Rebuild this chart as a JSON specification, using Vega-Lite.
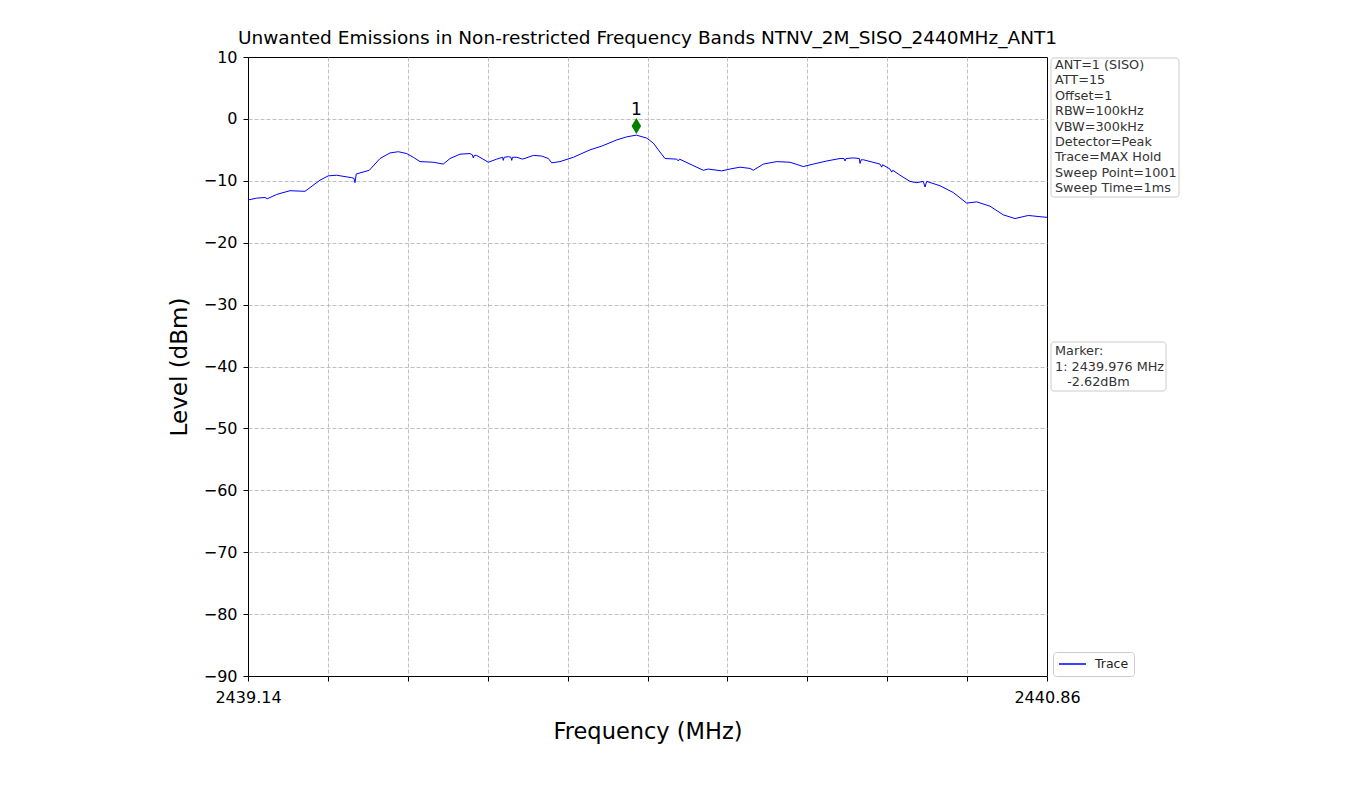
{
  "$schema": "https://vega.github.io/schema/vega-lite/v6.json",
  "width": 799,
  "height": 619,
  "autosize": {"type": "none"},
  "padding": {"left": 248, "top": 57, "right": 304, "bottom": 118},
  "background": "white",
  "config": {
    "font": "DejaVu Sans",
    "view": {"stroke": "black", "strokeWidth": 1}
  },
  "title": {
    "text": "Unwanted Emissions in Non-restricted Frequency Bands NTNV_2M_SISO_2440MHz_ANT1",
    "fontSize": 18.5,
    "fontWeight": "normal",
    "font": "DejaVu Sans",
    "color": "black",
    "offset": 2
  },
  "datasets": {
    "trace": [
      {"f": 2439.14, "level": -13.1},
      {"f": 2439.1587, "level": -12.8},
      {"f": 2439.1766, "level": -12.7},
      {"f": 2439.1815, "level": -12.9},
      {"f": 2439.2018, "level": -12.2},
      {"f": 2439.2304, "level": -11.6},
      {"f": 2439.2627, "level": -11.7},
      {"f": 2439.295, "level": -9.9},
      {"f": 2439.3129, "level": -9.2},
      {"f": 2439.3309, "level": -9.1},
      {"f": 2439.3632, "level": -9.5},
      {"f": 2439.368, "level": -9.6},
      {"f": 2439.3703, "level": -10.3},
      {"f": 2439.373, "level": -8.9},
      {"f": 2439.4011, "level": -8.3},
      {"f": 2439.4242, "level": -6.4},
      {"f": 2439.4457, "level": -5.5},
      {"f": 2439.4636, "level": -5.3},
      {"f": 2439.4816, "level": -5.6},
      {"f": 2439.4958, "level": -6.2},
      {"f": 2439.5103, "level": -6.9},
      {"f": 2439.5389, "level": -7.0},
      {"f": 2439.5604, "level": -7.3},
      {"f": 2439.5749, "level": -6.4},
      {"f": 2439.5964, "level": -5.7},
      {"f": 2439.6179, "level": -5.6},
      {"f": 2439.623, "level": -5.8},
      {"f": 2439.625, "level": -6.3},
      {"f": 2439.627, "level": -5.9},
      {"f": 2439.6323, "level": -5.9},
      {"f": 2439.6573, "level": -7.0},
      {"f": 2439.6754, "level": -6.5},
      {"f": 2439.688, "level": -6.2},
      {"f": 2439.6896, "level": -6.7},
      {"f": 2439.6915, "level": -6.2},
      {"f": 2439.7004, "level": -6.1},
      {"f": 2439.706, "level": -6.2},
      {"f": 2439.7077, "level": -6.7},
      {"f": 2439.7095, "level": -6.2},
      {"f": 2439.7184, "level": -6.2},
      {"f": 2439.7313, "level": -6.5},
      {"f": 2439.7542, "level": -5.9},
      {"f": 2439.7723, "level": -6.0},
      {"f": 2439.7865, "level": -6.4},
      {"f": 2439.7938, "level": -7.1},
      {"f": 2439.8116, "level": -6.9},
      {"f": 2439.8403, "level": -6.2},
      {"f": 2439.8762, "level": -5.0},
      {"f": 2439.9014, "level": -4.4},
      {"f": 2439.9337, "level": -3.4},
      {"f": 2439.9552, "level": -2.9},
      {"f": 2439.976, "level": -2.62},
      {"f": 2439.9983, "level": -3.1},
      {"f": 2440.0125, "level": -3.9},
      {"f": 2440.0233, "level": -5.0},
      {"f": 2440.0377, "level": -6.4},
      {"f": 2440.0629, "level": -6.5},
      {"f": 2440.0663, "level": -6.8},
      {"f": 2440.069, "level": -6.5},
      {"f": 2440.0915, "level": -7.3},
      {"f": 2440.1201, "level": -8.3},
      {"f": 2440.1309, "level": -8.1},
      {"f": 2440.1597, "level": -8.4},
      {"f": 2440.1776, "level": -8.1},
      {"f": 2440.1991, "level": -7.8},
      {"f": 2440.2207, "level": -8.0},
      {"f": 2440.2278, "level": -8.3},
      {"f": 2440.2493, "level": -7.3},
      {"f": 2440.2781, "level": -6.9},
      {"f": 2440.3068, "level": -7.0},
      {"f": 2440.3354, "level": -7.7},
      {"f": 2440.3569, "level": -7.3},
      {"f": 2440.3858, "level": -6.8},
      {"f": 2440.4144, "level": -6.4},
      {"f": 2440.423, "level": -6.4},
      {"f": 2440.4252, "level": -6.8},
      {"f": 2440.4275, "level": -6.4},
      {"f": 2440.443, "level": -6.3},
      {"f": 2440.456, "level": -6.4},
      {"f": 2440.4575, "level": -7.2},
      {"f": 2440.46, "level": -6.6},
      {"f": 2440.4646, "level": -6.6},
      {"f": 2440.5005, "level": -7.3},
      {"f": 2440.5042, "level": -7.8},
      {"f": 2440.506, "level": -7.4},
      {"f": 2440.522, "level": -8.1},
      {"f": 2440.5257, "level": -8.6},
      {"f": 2440.528, "level": -8.3},
      {"f": 2440.5436, "level": -9.1},
      {"f": 2440.5651, "level": -10.1},
      {"f": 2440.5795, "level": -10.3},
      {"f": 2440.5937, "level": -10.1},
      {"f": 2440.5974, "level": -11.0},
      {"f": 2440.601, "level": -10.1},
      {"f": 2440.6297, "level": -10.8},
      {"f": 2440.6583, "level": -11.9},
      {"f": 2440.6871, "level": -13.6},
      {"f": 2440.7087, "level": -13.4},
      {"f": 2440.7373, "level": -14.1},
      {"f": 2440.7659, "level": -15.5},
      {"f": 2440.7911, "level": -16.1},
      {"f": 2440.8198, "level": -15.6},
      {"f": 2440.8449, "level": -15.8},
      {"f": 2440.86, "level": -15.9}
    ],
    "marker": [
      {"f": 2439.976, "level": -2.62, "name": "1"}
    ],
    "settings": [
      {"txt": "ANT=1 (SISO)\nATT=15\nOffset=1\nRBW=100kHz\nVBW=300kHz\nDetector=Peak\nTrace=MAX Hold\nSweep Point=1001\nSweep Time=1ms"}
    ],
    "markerinfo": [
      {"txt": "Marker:\n1: 2439.976 MHz\n\u200b\u00a0\u00a0\u00a0-2.62dBm"}
    ]
  },
  "layer": [
    {
      "data": {"name": "trace"},
      "mark": {"type": "line", "strokeWidth": 1, "interpolate": "linear"},
      "encoding": {
        "x": {
          "field": "f",
          "type": "quantitative",
          "scale": {"domain": [2439.14, 2440.86], "nice": false, "zero": false},
          "axis": {
            "title": "Frequency (MHz)",
            "values": [2439.14, 2439.312, 2439.484, 2439.656, 2439.828, 2440.0, 2440.172, 2440.344, 2440.516, 2440.688, 2440.86],
            "labelExpr": "datum.index == 0 || datum.index == 1 ? format(datum.value, '.2f') : ''",
            "grid": true,
            "gridDash": [4, 2],
            "gridColor": "#b0b0b0",
            "gridWidth": 0.8,
            "gridOpacity": {"condition": {"test": "datum.index == 0 || datum.index == 1", "value": 0}, "value": 1},
            "domain": false,
            "tickColor": "black",
            "tickSize": 5,
            "tickWidth": 1,
            "labelFontSize": 16,
            "labelColor": "black",
            "labelPadding": 8,
            "labelFlush": false,
            "labelOverlap": false,
            "titleFontSize": 22.5,
            "titleFontWeight": "normal",
            "titleColor": "black",
            "titlePadding": 15
          }
        },
        "y": {
          "field": "level",
          "type": "quantitative",
          "scale": {"domain": [-90, 10], "nice": false, "zero": false},
          "axis": {
            "title": "Level (dBm)",
            "values": [-90, -80, -70, -60, -50, -40, -30, -20, -10, 0, 10],
            "grid": true,
            "gridDash": [4, 2],
            "gridColor": "#b0b0b0",
            "gridWidth": 0.8,
            "gridOpacity": {"condition": {"test": "datum.value == 10 || datum.value == -90", "value": 0}, "value": 1},
            "domain": false,
            "tickColor": "black",
            "tickSize": 5,
            "tickWidth": 1,
            "labelFontSize": 16,
            "labelColor": "black",
            "labelPadding": 6,
            "labelOverlap": false,
            "titleFontSize": 23,
            "titleFontWeight": "normal",
            "titleColor": "black",
            "titlePadding": 12
          }
        },
        "color": {
          "datum": "Trace",
          "scale": {"range": ["#0000ff"]},
          "legend": {
            "title": null,
            "orient": "none",
            "legendX": 805,
            "legendY": 595,
            "symbolType": "stroke",
            "symbolSize": 729,
            "symbolStrokeWidth": 1.5,
            "clipHeight": 14,
            "labelFontSize": 12.5,
            "labelColor": "#222",
            "labelOffset": 8,
            "padding": 5,
            "strokeColor": "#cccccc",
            "fillColor": "white",
            "cornerRadius": 3
          }
        }
      }
    },
    {
      "data": {"name": "marker"},
      "mark": {"type": "point", "shape": "M0,-1L0.6,0L0,1L-0.6,0Z", "filled": true, "color": "#008000", "opacity": 1, "size": 256, "yOffset": -9},
      "encoding": {
        "x": {"field": "f", "type": "quantitative"},
        "y": {"field": "level", "type": "quantitative"}
      }
    },
    {
      "data": {"name": "marker"},
      "mark": {"type": "text", "fontSize": 17, "color": "black", "dy": -25, "baseline": "middle", "align": "center"},
      "encoding": {
        "x": {"field": "f", "type": "quantitative"},
        "y": {"field": "level", "type": "quantitative"},
        "text": {"field": "name"}
      }
    },
    {
      "data": {"name": "settings"},
      "mark": {"type": "rect", "fill": "white", "stroke": "#cccccc", "strokeWidth": 1, "cornerRadius": 3},
      "encoding": {
        "x": {"datum": 2440.8686},
        "x2": {"datum": 2441.1442},
        "y": {"datum": 9.84},
        "y2": {"datum": -12.62}
      }
    },
    {
      "data": {"name": "settings"},
      "mark": {"type": "text", "fontSize": 12.8, "color": "#333", "align": "left", "baseline": "top", "lineBreak": "\n", "lineHeight": 15.4, "dx": 8},
      "encoding": {
        "x": {"datum": 2440.86},
        "y": {"datum": 9.66},
        "text": {"field": "txt"}
      }
    },
    {
      "data": {"name": "markerinfo"},
      "mark": {"type": "rect", "fill": "white", "stroke": "#cccccc", "strokeWidth": 1, "cornerRadius": 3},
      "encoding": {
        "x": {"datum": 2440.8686},
        "x2": {"datum": 2441.1162},
        "y": {"datum": -36.04},
        "y2": {"datum": -43.96}
      }
    },
    {
      "data": {"name": "markerinfo"},
      "mark": {"type": "text", "fontSize": 12.8, "color": "#333", "align": "left", "baseline": "top", "lineBreak": "\n", "lineHeight": 15.4, "dx": 8},
      "encoding": {
        "x": {"datum": 2440.86},
        "y": {"datum": -36.55},
        "text": {"field": "txt"}
      }
    }
  ]
}
